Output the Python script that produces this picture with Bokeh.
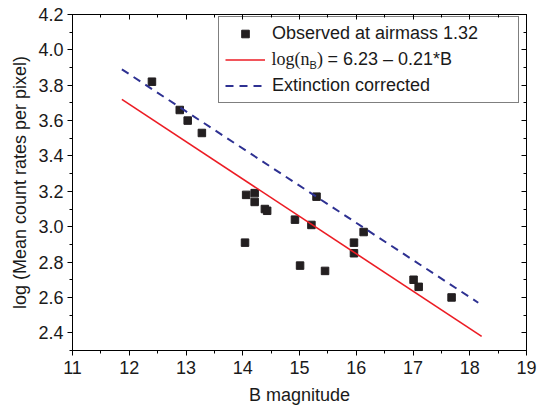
from bokeh.plotting import figure
from bokeh.models import (Range1d, LinearAxis, SingleIntervalTicker, PrintfTickFormatter,
                          Legend, LegendItem, Label, CustomJSTickFormatter)
from bokeh.embed import file_html
from bokeh.resources import INLINE

# ---- data ----
b_mag = [12.40, 12.89, 13.03, 13.28, 14.06, 14.21, 14.21, 14.39, 14.43, 14.04,
         14.92, 15.21, 15.30, 15.01, 15.45, 15.96, 15.96, 16.13, 17.01, 17.10, 17.68]
log_rate = [3.82, 3.66, 3.60, 3.53, 3.18, 3.19, 3.14, 3.10, 3.09, 2.91,
            3.04, 3.01, 3.17, 2.78, 2.75, 2.91, 2.85, 2.97, 2.70, 2.66, 2.60]
fit_b = [11.87, 18.21]
fit_log = [3.72, 2.38]
corr_b = [11.87, 18.15]
corr_log = [3.89, 2.57]
legend_labels = ["Observed at airmass 1.32", "", "Extinction corrected"]

FONT = "Liberation Sans"
W, H = 537, 414
L, R, T, B = 72, 11, 14, 64

p = figure(width=W, height=H, output_backend="svg", toolbar_location=None,
           x_range=Range1d(11, 19), y_range=Range1d(2.3, 4.2),
           min_border_left=L, min_border_right=R, min_border_top=T, min_border_bottom=B,
           x_axis_label="B magnitude", y_axis_label="log (Mean count rates per pixel)")
p.xgrid.visible = False
p.ygrid.visible = False
p.outline_line_color = "black"
p.outline_line_width = 1
p.background_fill_color = "white"
p.border_fill_color = "white"

xt = SingleIntervalTicker(interval=1, num_minor_ticks=2)
yt = SingleIntervalTicker(interval=0.2, num_minor_ticks=2)

for ax in p.xaxis:
    ax.ticker = xt
for ax in p.yaxis:
    ax.ticker = yt
    ax.formatter = PrintfTickFormatter(format="%.1f")

for ax in list(p.xaxis) + list(p.yaxis):
    ax.axis_line_color = "black"
    ax.major_tick_line_color = "black"
    ax.minor_tick_line_color = "black"
    ax.major_tick_in = 0
    ax.minor_tick_in = 0
    ax.major_tick_out = 5
    ax.minor_tick_out = 3
    ax.major_label_text_font = FONT
    ax.major_label_text_font_size = "18px"
    ax.major_label_text_color = "#1a1a1a"
    ax.axis_label_text_font = FONT
    ax.axis_label_text_font_size = "18px"
    ax.axis_label_text_font_style = "normal"
    ax.axis_label_text_color = "#1a1a1a"
p.xaxis.major_label_standoff = 5
p.xaxis.axis_label_standoff = 8
p.yaxis.major_label_standoff = 4
p.yaxis.axis_label_standoff = 5

# mirror axes with inward ticks and no labels
blank = CustomJSTickFormatter(code="return ''")
top = LinearAxis(ticker=xt, formatter=blank, major_label_text_font_size="1px",
                 major_label_standoff=0,
                 major_tick_in=5, major_tick_out=0, minor_tick_in=3, minor_tick_out=0)
right = LinearAxis(ticker=yt, formatter=blank, major_label_text_font_size="1px",
                   major_label_standoff=0,
                   major_tick_in=5, major_tick_out=0, minor_tick_in=3, minor_tick_out=0)
p.add_layout(top, "above")
p.add_layout(right, "right")

# ---- marks ----
pts = p.scatter(b_mag, log_rate, marker="square", size=7.5,
                fill_color="#231f20", line_color="#231f20")
fit = p.line(fit_b, fit_log, line_color="#ec1c24", line_width=1.6)
corr = p.line(corr_b, corr_log, line_color="#2e3192", line_width=2, line_dash="8 6")

legend = Legend(items=[LegendItem(label=legend_labels[0], renderers=[pts]),
                       LegendItem(label=legend_labels[1], renderers=[fit]),
                       LegendItem(label=legend_labels[2], renderers=[corr])],
                location=(146, 247), border_line_color="black", border_line_width=1,
                background_fill_alpha=0,
                padding=6, spacing=6, glyph_height=19, label_height=19, glyph_width=40,
                label_standoff=7, label_width=240, margin=0,
                label_text_font=FONT, label_text_font_size="18px",
                label_text_color="#1a1a1a", label_text_baseline="middle")
p.add_layout(legend, "center")

# formula label with subscript, in the red legend row (legend box is transparent)
def dx(px):
    return 11 + (px - 72) / 56.75

def dy(py):
    return 4.2 - (py - 14) / 176.8

row_y = 58.0
common = dict(text_baseline="middle", text_color="#1a1a1a")
p.add_layout(Label(x=dx(271), y=dy(row_y), text="log(n", text_font="Liberation Serif",
                   text_font_size="18px", **common))
p.add_layout(Label(x=dx(309), y=dy(row_y + 6), text="B", text_font=FONT,
                   text_font_size="11px", **common))
p.add_layout(Label(x=dx(316.5), y=dy(row_y), text=")", text_font="Liberation Serif",
                   text_font_size="18px", **common))
p.add_layout(Label(x=dx(327), y=dy(row_y), text="= 6.23 \u2013 0.21*B", text_font=FONT,
                   text_font_size="18px", **common))

open("out.html", "w").write(file_html(p, INLINE))
